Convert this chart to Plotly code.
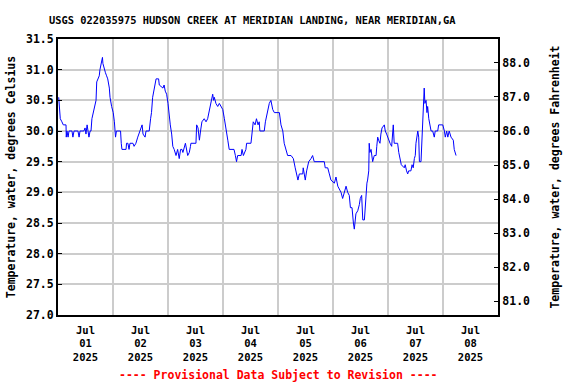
import pandas as pd
import plotly.graph_objects as go

# Hours after 2025-07-01 00:00 and water temperature (deg C)
hours = [
    -11.7, -11.4, -11.0, -10.3, -9.7, -8.5, -8.4, -8.1, -7.6, -7.2, -5.9, -5.5, -5.0,
    -3.3, -2.8, -2.4, -0.7, -0.2, 0.2, 0.7, 1.1, 1.5, 2.0, 2.4, 2.8, 3.4, 3.9, 4.3,
    4.6, 4.9, 5.6, 6.0, 6.3, 6.8, 7.1, 7.4, 7.6, 8.2, 8.7, 9.2, 9.7, 10.4, 10.7, 11.4,
    12.1, 12.6, 12.9, 13.1, 13.5, 15.3, 15.6, 15.9, 17.7, 17.9, 18.5, 19.0, 19.4,
    20.7, 21.2, 22.0,
    22.8, 24.2, 24.7, 25.1, 26.0, 26.4, 27.8, 28.4, 28.8, 29.3, 30.0, 30.8, 31.9,
    32.2, 33.8, 34.3, 34.8, 35.4, 36.0, 36.6, 37.0, 37.6, 38.1, 38.7, 39.5, 40.2,
    40.9, 41.5, 42.1, 42.5, 43.1, 43.6, 44.6, 45.3, 45.8, 46.0, 48.2, 48.5, 49.1,
    49.7, 50.2, 50.8, 51.8, 52.6, 53.3, 53.8, 54.8, 55.5, 55.9, 56.2, 56.9, 57.7,
    58.4, 59.1, 59.9, 60.6, 61.3, 62.1, 62.7, 64.8, 65.4, 65.9, 66.4, 67.9, 68.3,
    68.9, 70.0, 70.3, 72.2, 72.7, 73.2, 74.0, 74.6, 75.3, 75.8, 76.1, 78.0, 78.5,
    79.5, 80.2, 80.9, 81.7, 82.4, 84.6, 85.3, 86.1, 86.7, 87.5, 88.2, 89.7, 90.7,
    91.5, 92.2,
    92.7, 93.3, 94.8, 95.0, 95.5, 95.9, 96.5, 97.4, 98.4, 99.1, 99.8, 104.2, 104.6,
    105.7, 106.4, 107.1, 108.6, 109.3, 110.1, 110.7, 111.5, 112.2, 112.9, 113.7,
    114.4, 115.1, 115.6, 116.3, 116.9, 117.3, 118.0, 118.8, 119.5, 119.9, 120.5,
    121.0, 121.7, 122.1, 122.4, 122.8, 123.1, 123.6, 123.8, 124.1, 124.6, 125.3,
    126.0, 126.8, 127.1, 127.5,
    127.9, 128.5, 128.9, 129.4, 130.4, 130.8, 131.4, 132.2, 132.9, 133.6, 134.1,
    134.3, 134.7, 136.2, 136.7, 136.9, 137.4, 137.8, 139.1, 139.5, 140.1, 140.6,
    141.0, 142.0, 142.5, 143.0, 143.5, 143.9, 144.2, 145.0, 145.4, 145.7, 146.4,
    146.8, 147.1, 147.6, 147.8, 148.1, 148.6, 149.0, 149.3, 149.8, 150.3, 150.8,
    151.5, 151.8, 152.2, 152.6, 153.7, 154.1, 155.9, 156.6, 157.0, 157.6, 158.1,
    158.7, 159.5, 160.5, 160.9, 161.7,
]
temp_c = [
    30.55, 30.4, 30.2, 30.15, 30.1, 30.1, 29.9, 30.0, 29.9, 30.0, 30.0, 29.9, 30.0,
    30.0, 29.9, 30.0, 30.0, 30.05, 29.95, 30.1, 30.0, 29.9, 30.0, 30.0, 30.2, 30.3,
    30.4, 30.5, 30.5, 30.8, 30.85, 30.9, 31.0, 31.1, 31.2, 31.2, 31.1, 31.0, 30.95,
    30.9, 30.85, 30.7, 30.55, 30.4, 30.3, 30.15, 30.0, 29.9, 30.0, 30.0, 29.8, 29.7,
    29.7, 29.8, 29.8, 29.7, 29.8, 29.8, 29.75, 29.8,
    29.9, 30.05, 30.1, 29.95, 29.9, 30.0, 30.0, 30.2, 30.3, 30.55, 30.7, 30.85,
    30.85, 30.75, 30.7, 30.75, 30.65, 30.6, 30.45, 30.2, 30.1, 29.95, 29.75, 29.7,
    29.6, 29.7, 29.55, 29.7, 29.7, 29.65, 29.75, 29.8, 29.6, 29.65, 29.75, 29.8,
    29.8, 30.1, 30.05, 29.85, 30.0, 30.15, 30.2, 30.15, 30.2, 30.3, 30.5, 30.6,
    30.5, 30.55, 30.45, 30.4,
    30.45, 30.4, 30.35, 30.2, 30.0, 29.85, 29.7, 29.7, 29.6, 29.5, 29.6, 29.6, 29.7,
    29.6, 29.7, 29.8, 29.8, 30.05, 30.15, 30.1, 30.2, 30.1, 30.15, 30.0, 30.0, 30.15,
    30.3, 30.45, 30.5, 30.35, 30.3, 30.3, 30.1, 30.0, 29.8, 29.7, 29.6, 29.6, 29.55,
    29.4, 29.25,
    29.2, 29.3, 29.3, 29.4, 29.25, 29.2, 29.35, 29.5, 29.55, 29.6, 29.5, 29.5, 29.4,
    29.4, 29.3, 29.2, 29.15, 29.25, 29.1, 29.05, 29.0, 28.9, 29.0, 29.1, 29.0, 28.95,
    28.75, 28.75, 28.5, 28.4, 28.65, 28.7, 28.8, 28.9, 28.95, 28.55, 28.55, 28.8,
    29.0, 29.15, 29.2, 29.35, 29.8, 29.65, 29.7, 29.5, 29.6, 29.6, 29.75, 29.9,
    29.85, 29.8, 29.95, 30.05, 30.1, 30.0, 29.95, 29.85, 29.8, 29.75, 30.0, 30.1,
    29.8, 29.8, 29.65, 29.6, 29.5, 29.45, 29.4, 29.45, 29.35, 29.3, 29.35, 29.35,
    29.45, 29.4, 29.55, 29.6, 29.8, 30.0, 29.9, 29.5, 29.5, 29.85, 30.2, 30.5, 30.7,
    30.45, 30.5, 30.3, 30.4, 30.2, 30.1, 30.0, 30.0, 29.95, 29.9, 30.0, 30.0, 30.1,
    30.1, 30.0, 29.9, 30.0, 29.9, 30.0, 29.9, 29.85, 29.7, 29.6,
]

tick_days = ["2025-07-01", "2025-07-02", "2025-07-03", "2025-07-04",
             "2025-07-05", "2025-07-06", "2025-07-07", "2025-07-08"]
tick_text = ["Jul<br>01<br>2025", "Jul<br>02<br>2025", "Jul<br>03<br>2025",
             "Jul<br>04<br>2025", "Jul<br>05<br>2025", "Jul<br>06<br>2025",
             "Jul<br>07<br>2025", "Jul<br>08<br>2025"]
grid_times = ["2025-07-01 12:00", "2025-07-02 12:00", "2025-07-03 12:00",
              "2025-07-04 12:00", "2025-07-05 12:00", "2025-07-06 12:00",
              "2025-07-07 12:00"]
x_range = ["2025-06-30 12:00", "2025-07-08 12:00"]
c_range = [27.0, 31.5]
f_ticks = [81, 82, 83, 84, 85, 86, 87, 88]

t0 = pd.Timestamp("2025-07-01 00:00")
times = t0 + pd.to_timedelta(hours, unit="h")
temp_f = [c * 1.8 + 32 for c in temp_c]
f_range = [c * 1.8 + 32 for c in c_range]

FONT = "DejaVu Sans Mono"

fig = go.Figure()
fig.add_trace(go.Scatter(x=times, y=temp_c, mode="lines",
                         line=dict(color="#0000ff", width=1),
                         showlegend=False))
fig.add_trace(go.Scatter(x=times, y=temp_f, mode="lines", yaxis="y2",
                         line=dict(width=0), opacity=0, hoverinfo="skip",
                         showlegend=False))

fig.update_layout(
    width=576, height=384,
    margin=dict(l=58, r=78, t=39, b=69, autoexpand=False),
    paper_bgcolor="white", plot_bgcolor="white",
    font=dict(family=FONT, size=11.5, color="black", weight="bold"),
    xaxis=dict(
        type="date", range=x_range, automargin=False,
        tickmode="array", tickvals=tick_days, ticktext=tick_text,
        showgrid=False, ticks="", ticklabelstandoff=4,
        showline=True, linecolor="black", linewidth=2, mirror=True,
        minor=dict(tickmode="array", tickvals=grid_times, showgrid=True,
                   gridcolor="#cccccc", gridwidth=1.5, ticks=""),
        tickfont=dict(size=10.5),
        zeroline=False,
    ),
    yaxis=dict(
        range=c_range, dtick=0.5, tick0=27.0, tickformat=".1f", automargin=False,
        showgrid=True, gridcolor="#cccccc", gridwidth=1.5,
        ticks="inside", ticklen=4, tickcolor="black",
        showline=True, linecolor="black", linewidth=2,
        title=dict(text="Temperature, water, degrees Celsius",
                   font=dict(size=11.5), standoff=8),
        zeroline=False,
    ),
    yaxis2=dict(
        overlaying="y", side="right", range=f_range, automargin=False,
        tickmode="array", tickvals=f_ticks, tickformat=".1f",
        showgrid=False, ticks="inside", ticklen=4, tickcolor="black",
        showline=True, linecolor="black", linewidth=2,
        title=dict(text="Temperature, water, degrees Fahrenheit",
                   font=dict(size=11.5), standoff=22),
        zeroline=False,
    ),
    annotations=[
        dict(text="USGS 022035975 HUDSON CREEK AT MERIDIAN LANDING, NEAR MERIDIAN,GA",
             xref="paper", yref="paper", x=0.441, y=1.069,
             xanchor="center", yanchor="middle", showarrow=False,
             font=dict(size=10.4)),
        dict(text="---- Provisional Data Subject to Revision ----",
             xref="paper", yref="paper", x=0.5, y=-0.217,
             xanchor="center", yanchor="middle", showarrow=False,
             font=dict(size=11.5, color="#ff0000")),
    ],
)

fig.write_html("out.html", config={"displayModeBar": False},
               post_script="document.body.style.margin='0px';document.body.style.overflow='hidden';")
